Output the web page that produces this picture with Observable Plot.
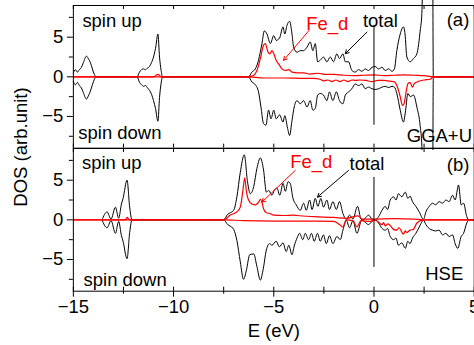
<!DOCTYPE html>
<html><head><meta charset="utf-8">
<script src="https://cdn.jsdelivr.net/npm/d3@7"></script>
<script src="https://cdn.jsdelivr.net/npm/@observablehq/plot@0.6"></script>
<style>
body{margin:0;background:#fff;}
#wrap{position:relative;width:474px;height:345px;overflow:hidden;font-family:"Liberation Sans",Arial,sans-serif;background:#fff;}
#top,#bot{position:absolute;left:0;}
#top{top:0;} #bot{top:147px;}
#ylab{position:absolute;left:21px;top:147px;transform:translate(-50%,-50%) rotate(-90deg);font-size:18.5px;white-space:nowrap;color:#000;}
</style></head><body>
<div id="wrap"><div id="bot"></div><div id="top"></div><div id="ylab">DOS (arb.unit)</div></div>
<script>
// ---------- data: [E (eV), DOS] ----------
const topTotalUp = [[-15,0.5],[-14.9,0.9],[-14.8,0.6],[-14.7,0.9],[-14.6,1.2],[-14.5,1.8],[-14.35,2.6],[-14.25,2.3],[-14.15,1.8],[-14.05,1.0],[-13.95,0.3],[-13.87,0],
[-11.82,0],[-11.7,0.6],[-11.6,0.9],[-11.5,1.0],[-11.4,0.9],[-11.3,1.1],[-11.2,1.3],[-11.1,1.8],[-11.0,2.5],[-10.9,3.6],[-10.78,5.4],[-10.7,2.5],[-10.62,0.8],[-10.55,0],
[-6.26,0],[-6.09,0.6],[-5.92,1.0],[-5.76,2.1],[-5.59,4.2],[-5.47,5.8],[-5.34,5.4],[-5.17,4.2],[-5.0,5.2],[-4.88,4.6],[-4.71,4.9],[-4.54,6.3],[-4.45,5.4],[-4.34,6.5],[-4.21,7.0],[-4.09,5.4],[-4.01,3.75],[-3.84,3.1],[-3.68,3.3],[-3.51,3.3],[-3.34,3.75],[-3.18,4.4],[-3.05,3.3],[-2.93,4.2],[-2.81,1.9],[-2.68,2.1],[-2.52,2.5],[-2.35,1.9],[-2.18,2.5],[-2.02,1.9],[-1.85,2.9],[-1.72,2.3],[-1.55,2.9],[-1.43,1.9],[-1.27,1.9],[-1.1,0.8],[-0.94,0.6],[-0.77,0.9],[-0.6,0.7],[-0.44,1.0],[-0.27,0.8],[-0.1,1.2],[0.06,1.3],[0.23,1.0],[0.4,1.2],[0.56,0.8],[0.73,1.0],[0.9,0.7],[1.02,1.0],[1.14,3.3],[1.31,5.4],[1.47,6.3],[1.55,5.4],[1.64,2.5],[1.81,1.9],[1.97,2.3],[2.14,2.9],[2.31,5.9],[2.39,8.0],[2.5,20],[2.92,20],[2.96,0],[5,0]];
const topTotalDown = [[-15,-0.6],[-14.9,-1.0],[-14.8,-0.7],[-14.7,-1.1],[-14.6,-1.4],[-14.5,-2.0],[-14.35,-2.8],[-14.25,-2.4],[-14.15,-1.8],[-14.05,-1.0],[-13.95,-0.3],[-13.87,0],
[-11.82,0],[-11.7,-0.7],[-11.6,-1.0],[-11.5,-1.2],[-11.4,-1.1],[-11.3,-1.4],[-11.2,-1.7],[-11.1,-2.2],[-11.0,-3.0],[-10.9,-4.0],[-10.78,-5.6],[-10.7,-2.6],[-10.62,-0.8],[-10.55,0],
[-6.26,0],[-6.09,-0.65],[-5.92,-1.0],[-5.76,-1.9],[-5.64,-3.8],[-5.51,-5.9],[-5.39,-6.1],[-5.26,-4.2],[-5.14,-5.3],[-5.0,-4.2],[-4.88,-5.3],[-4.71,-4.8],[-4.54,-5.7],[-4.45,-4.9],[-4.31,-6.5],[-4.21,-7.4],[-4.09,-5.5],[-3.98,-3.8],[-3.84,-3.0],[-3.68,-3.4],[-3.51,-3.0],[-3.34,-3.8],[-3.18,-3.0],[-3.05,-4.2],[-2.93,-4.0],[-2.81,-2.3],[-2.68,-2.1],[-2.52,-2.3],[-2.35,-3.0],[-2.22,-1.9],[-2.05,-3.0],[-1.88,-1.9],[-1.72,-3.0],[-1.55,-3.4],[-1.43,-2.3],[-1.27,-1.9],[-1.1,-1.5],[-0.94,-0.9],[-0.77,-1.1],[-0.6,-0.9],[-0.44,-1.5],[-0.27,-1.3],[-0.1,-1.5],[0.06,-1.6],[0.23,-1.5],[0.4,-1.3],[0.56,-1.2],[0.73,-1.35],[0.9,-1.2],[1.02,-1.3],[1.14,-2.1],[1.31,-4.2],[1.47,-5.7],[1.58,-4.2],[1.69,-2.1],[1.81,-2.5],[1.97,-2.3],[2.14,-3.8],[2.31,-6.3],[2.39,-8.8],[2.45,-20],[2.92,-20],[2.96,0],[5,0]];
const topFeUp = [[-15,0],[-11.0,0],[-10.78,0.3],[-10.6,0],[-6.26,0],[-6.0,0.2],[-5.84,0.8],[-5.67,2.3],[-5.51,4.0],[-5.42,4.2],[-5.3,3.2],[-5.2,2.9],[-5.09,3.3],[-5.0,2.9],[-4.88,2.1],[-4.71,1.45],[-4.59,1.0],[-4.43,0.8],[-4.25,0.9],[-4.09,0.6],[-3.8,0.5],[-3.5,0.5],[-3.2,0.35],[-2.8,0.45],[-2.4,0.3],[-2.0,0.3],[-1.5,0.2],[-1.0,0.15],[-0.5,0.2],[0,0.25],[0.5,0.15],[1.0,0.2],[1.5,0.25],[2,0.2],[2.5,0.15],[2.97,0],[5,0]];
const topFeDown = [[-15,0],[-6.26,0],[-5.5,-0.15],[-4.5,-0.15],[-3.5,-0.2],[-3.0,-0.2],[-2.7,-0.3],[-2.5,-0.5],[-2.3,-0.4],[-2.1,-0.6],[-1.9,-0.4],[-1.7,-0.6],[-1.5,-0.4],[-1.3,-0.6],[-1.1,-0.4],[-0.9,-0.45],[-0.7,-0.4],[-0.4,-0.45],[-0.1,-0.6],[0.2,-0.45],[0.5,-0.45],[0.8,-0.55],[1.0,-0.6],[1.14,-1.1],[1.31,-2.5],[1.42,-3.6],[1.5,-3.4],[1.59,-2.1],[1.69,-0.9],[1.8,-0.7],[1.92,-1.3],[2.0,-0.9],[2.14,-0.65],[2.5,-0.4],[2.8,-0.3],[2.97,0],[5,0]];

const botTotalUp = [[-13.57,0],[-13.32,1.0],[-13.12,0.1],[-12.9,1.6],[-12.74,0.2],[-12.6,2.0],[-12.52,2.7],[-12.32,5.0],[-12.19,1.6],[-12.07,0],
[-7.5,0],[-7.3,0.7],[-7.17,0.9],[-7.0,1.2],[-6.84,2.9],[-6.67,6.0],[-6.47,8.2],[-6.31,4.8],[-6.17,3.3],[-6.0,4.2],[-5.84,6.5],[-5.67,7.8],[-5.51,6.3],[-5.37,3.5],[-5.25,3.7],[-5.09,3.1],[-4.98,3.7],[-4.84,4.0],[-4.7,3.1],[-4.54,4.6],[-4.42,3.6],[-4.29,4.8],[-4.18,4.6],[-4.04,2.7],[-3.88,1.9],[-3.68,1.2],[-3.51,2.1],[-3.38,1.2],[-3.21,2.5],[-3.09,1.3],[-2.93,2.7],[-2.8,1.7],[-2.65,2.7],[-2.52,1.6],[-2.35,2.5],[-2.22,1.3],[-2.05,2.3],[-1.88,1.3],[-1.72,2.3],[-1.55,0.8],[-1.38,0.05],[-1.22,0.6],[-1.05,0.1],[-0.82,1.7],[-0.65,0.1],[-0.6,0],[-0.44,0.2],[-0.27,0.6],[-0.1,0.1],[0.06,0],[0.23,0.4],[0.4,1.2],[0.56,1.7],[0.68,1.3],[0.81,2.5],[0.98,2.9],[1.1,2.5],[1.22,3.3],[1.39,2.9],[1.56,3.5],[1.69,2.7],[1.8,3.0],[1.92,2.3],[2.09,1.7],[2.26,1.0],[2.47,0.05],[2.59,1.0],[2.76,1.7],[2.92,2.1],[3.08,1.9],[3.25,2.3],[3.42,2.1],[3.59,2.5],[3.75,2.3],[3.92,3.1],[4.05,2.5],[4.22,4.4],[4.35,1.9],[4.47,2.1],[4.63,0.4],[4.75,0],[5,0]];
const botTotalDown = [[-13.57,0],[-13.32,-1.0],[-13.12,-0.1],[-12.9,-1.7],[-12.74,-0.2],[-12.6,-2.0],[-12.52,-2.7],[-12.32,-4.9],[-12.19,-1.6],[-12.07,0],
[-7.5,0],[-7.3,-0.6],[-7.17,-0.8],[-7.0,-1.2],[-6.84,-2.6],[-6.67,-5.3],[-6.51,-7.5],[-6.37,-6.4],[-6.2,-4.4],[-6.0,-4.3],[-5.84,-5.9],[-5.67,-7.6],[-5.54,-6.4],[-5.37,-3.8],[-5.21,-3.0],[-5.09,-3.2],[-4.88,-2.7],[-4.72,-3.4],[-4.54,-2.9],[-4.38,-4.0],[-4.25,-3.2],[-4.09,-4.4],[-3.98,-3.3],[-3.84,-2.3],[-3.71,-1.7],[-3.55,-2.5],[-3.43,-1.7],[-3.26,-2.5],[-3.12,-1.7],[-2.98,-2.7],[-2.82,-1.7],[-2.68,-2.7],[-2.52,-1.9],[-2.38,-3.0],[-2.22,-2.0],[-2.05,-3.0],[-1.85,-2.1],[-1.68,-2.5],[-1.55,-1.3],[-1.38,-0.05],[-1.22,-1.0],[-1.05,-0.1],[-0.85,-1.7],[-0.65,-0.2],[-0.6,0],[-0.44,-0.3],[-0.27,-0.6],[-0.1,-0.2],[0.06,0],[0.23,-0.4],[0.4,-1.07],[0.56,-1.3],[0.68,-1.1],[0.81,-2.1],[0.98,-2.5],[1.1,-2.3],[1.22,-3.2],[1.39,-2.9],[1.56,-3.6],[1.69,-2.7],[1.8,-3.0],[1.92,-2.3],[2.09,-1.7],[2.26,-0.9],[2.47,-0.05],[2.59,-0.6],[2.76,-1.1],[2.92,-1.3],[3.08,-1.4],[3.25,-1.3],[3.42,-1.9],[3.59,-1.7],[3.75,-2.1],[3.92,-1.9],[4.05,-3.0],[4.18,-3.6],[4.35,-2.1],[4.47,-1.7],[4.63,-0.4],[4.75,0],[5,0]];
const botFeUp = [[-15,0],[-12.4,0],[-12.32,0.3],[-12.2,0],[-7.5,0],[-7.17,0.6],[-6.84,1.0],[-6.67,1.6],[-6.54,3.7],[-6.45,5.3],[-6.36,3.5],[-6.26,2.5],[-6.09,2.0],[-5.92,1.9],[-5.76,2.2],[-5.67,2.6],[-5.6,2.3],[-5.51,1.4],[-5.37,0.9],[-5.2,0.8],[-5.0,0.6],[-4.5,0.55],[-4.0,0.6],[-3.84,0.55],[-3.0,0.4],[-2.0,0.3],[-1.4,0.2],[-0.8,0.5],[-0.6,0.1],[0,0.1],[1,0.15],[2,0.1],[2.47,0],[5,0]];
const botFeDown = [[-15,0],[-7.5,0],[-6.5,-0.1],[-5,-0.15],[-3,-0.15],[-2,-0.2],[-1.72,-0.6],[-1.55,-0.9],[-1.38,0],[-1.05,-0.1],[-0.85,-0.9],[-0.65,-0.1],[-0.2,-0.2],[0.06,0],[0.23,-0.3],[0.4,-0.6],[0.48,-0.35],[0.56,-0.75],[0.7,-0.5],[0.98,-1.2],[1.14,-1.3],[1.25,-1.0],[1.47,-1.8],[1.56,-1.4],[1.64,-1.6],[1.8,-1.3],[1.97,-1.2],[2.14,-0.4],[2.47,0],[5,0]];

// axis ticks
const xMajor = [-15,-10,-5,0,5];
const xMinor = [-12.5,-7.5,-2.5,2.5];
const yMajor = [-5,0,5];
const yMinor = [-7.5,-2.5,2.5,7.5];
const xDomain = [-15,5];
const yDomain = [-9,9];
const fermiLevel = 0;
const fermiTop = [-6.1, 6.5];
const fermiBot = [-6.0, 5.35];

// annotations (anchor in data units)
const topTextBlack = [{t:"spin up",E:-14.55,v:7.0},{t:"spin down",E:-14.75,v:-7.05},{t:"(a)",E:3.63,v:7.2},{t:"GGA+U",E:1.64,v:-7.5},{t:"total",E:-0.55,v:7.0}];
const topTextRed = [{t:"Fe_d",E:-3.38,v:6.7}];
const botTextBlack = [{t:"spin up",E:-14.57,v:7.2},{t:"spin down",E:-14.49,v:-7.6},{t:"(b)",E:3.63,v:6.9},{t:"HSE",E:2.56,v:-6.9},{t:"total",E:-1.22,v:7.0}];
const botTextRed = [{t:"Fe_d",E:-4.18,v:7.3}];
const topArrowsBlack = [{x1:-0.35,y1:5.64,x2:-1.43,y2:2.92}];
const topArrowsRed = [{x1:-3.24,y1:5.85,x2:-4.51,y2:2.08}];
const botArrowsBlack = [{x1:-1.27,y1:6.23,x2:-2.82,y2:2.87}];
const botArrowsRed = [{x1:-3.93,y1:6.23,x2:-5.59,y2:2.24}];

const FONT = "Liberation Sans, Arial, sans-serif";
const FS = 18.5;
const rows = a => a.map(([E,v]) => ({E, v}));

function panel(o) {
  const innerH = o.height - o.marginTop - o.marginBottom;
  const marks = [
    Plot.line(rows(o.up), {x:"E", y:"v", stroke:"black", strokeWidth:1, curve:"monotone-x"}),
    Plot.line(rows(o.down), {x:"E", y:"v", stroke:"black", strokeWidth:1, curve:"monotone-x"}),
    Plot.line(rows(o.feDown), {x:"E", y:"v", stroke:"#ff0000", strokeWidth:1.2, curve:"monotone-x"}),
    Plot.line(rows(o.feUp), {x:"E", y:"v", stroke:"#ff0000", strokeWidth:1.2, curve:"monotone-x"}),
    Plot.ruleX([{E: fermiLevel, lo: o.fermi[0], hi: o.fermi[1]}], {x:"E", y1:"lo", y2:"hi", stroke:"black", strokeWidth:1}),
    Plot.frame({stroke:"black", strokeWidth:1}),
    // inward ticks on top and bottom edges
    Plot.tickX(xMajor.concat(xMinor), {x: d => d, insetBottom: innerH - 4, stroke:"black"}),
    Plot.tickX(xMajor.concat(xMinor), {x: d => d, insetTop: innerH - 4, stroke:"black"}),
    Plot.axisY({ticks: yMajor, tickSize: 6, tickPadding: 4, label: null}),
    Plot.axisY({ticks: yMinor, tickSize: 4, tickFormat: () => "", label: null}),
    Plot.text(o.textBlack, {x:"E", y:"v", text:"t", textAnchor:"start", fill:"black", fontSize:FS}),
    Plot.text(o.textRed, {x:"E", y:"v", text:"t", textAnchor:"start", fill:"#ff0000", fontSize:FS}),
    Plot.arrow(o.arrowsBlack, {x1:"x1", y1:"y1", x2:"x2", y2:"y2", stroke:"black", strokeWidth:1, headLength:6}),
    Plot.arrow(o.arrowsRed, {x1:"x1", y1:"y1", x2:"x2", y2:"y2", stroke:"#ff0000", strokeWidth:1, headLength:6})
  ];
  if (o.bottomAxis) {
    marks.push(
      Plot.axisX({ticks: xMajor, tickSize: 6, tickPadding: 3, label: null}),
      Plot.axisX({ticks: xMinor, tickSize: 3, tickFormat: () => "", label: null}),
      Plot.text(["E (eV)"], {text: d => d, frameAnchor: "bottom", dy: 40, lineAnchor: "middle", fontSize: FS, fill: "black"})
    );
  }
  return Plot.plot({
    width: 475, height: o.height,
    marginLeft: 73, marginRight: 0.3, marginTop: o.marginTop, marginBottom: o.marginBottom,
    x: {domain: xDomain, axis: null},
    y: {domain: yDomain, axis: null},
    style: {fontFamily: FONT, fontSize: FS + "px", color: "black", background: "transparent", overflow: "hidden"},
    marks
  });
}

document.getElementById("top").appendChild(panel({
  height: 150, marginTop: 5, marginBottom: 2,
  up: topTotalUp, down: topTotalDown, feUp: topFeUp, feDown: topFeDown,
  fermi: fermiTop, textBlack: topTextBlack, textRed: topTextRed,
  arrowsBlack: topArrowsBlack, arrowsRed: topArrowsRed, bottomAxis: false
}));
document.getElementById("bot").appendChild(panel({
  height: 198, marginTop: 1, marginBottom: 54,
  up: botTotalUp, down: botTotalDown, feUp: botFeUp, feDown: botFeDown,
  fermi: fermiBot, textBlack: botTextBlack, textRed: botTextRed,
  arrowsBlack: botArrowsBlack, arrowsRed: botArrowsRed, bottomAxis: true
}));
</script>
</body></html>
